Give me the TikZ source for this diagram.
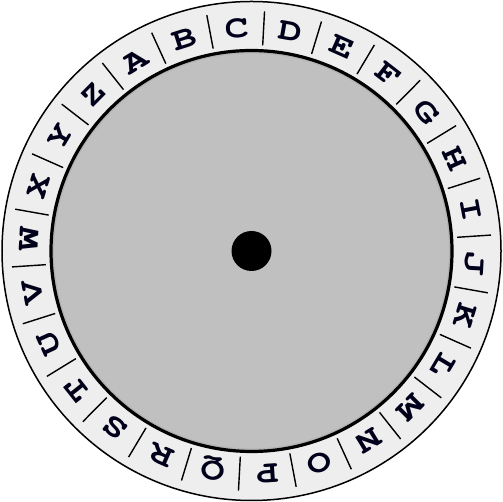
\documentclass[tikz,border=0pt]{standalone}
\usepackage[T1]{fontenc}
\begin{document}
\begin{tikzpicture}[x=1pt,y=1pt]
\definecolor{ringfill}{HTML}{EEEEEE}
\definecolor{diskfill}{HTML}{C0C0C0}
\definecolor{lettercol}{HTML}{00001A}
\tikzset{
  letter/.style={font=\fontfamily{pcr}\fontseries{b}\fontsize{32}{32}\selectfont, text=lettercol, inner sep=0pt, text height=18pt, text depth=0pt, anchor=center},
  divider/.style={line width=1.4pt, black}
}
\useasboundingbox (0,0) rectangle (503,502);
\coordinate (c) at (251.5,251);
\filldraw[fill=ringfill, draw=black, line width=1.5pt] (c) circle (249.5);
\fill[diskfill] (c) circle (200.5);
\draw[black!30, line width=1.5pt] (c) circle (198.3);
\draw[black, line width=3.2pt] (c) circle (200.5);
\fill[black] (c) circle (20);
\foreach \L [count=\i from 0] in {A,B,C,D,E,F,G,H,I,J,K,L,M,N,O,P,Q,R,S,T,U,V,W,X,Y,Z}{
  \pgfmathsetmacro{\phi}{121.5-\i*13.84615}
  \pgfmathsetmacro{\rot}{\phi-90}
  \pgfmathsetmacro{\pd}{\phi-6.923}
  \node[letter, rotate=\rot, xscale=1.25] (L\i) at ([shift={(\phi:222.7)}]c) {\L};
  \draw[divider] ([shift={(\pd:206)}]c) -- ([shift={(\pd:240)}]c);
}
\end{tikzpicture}
\end{document}
